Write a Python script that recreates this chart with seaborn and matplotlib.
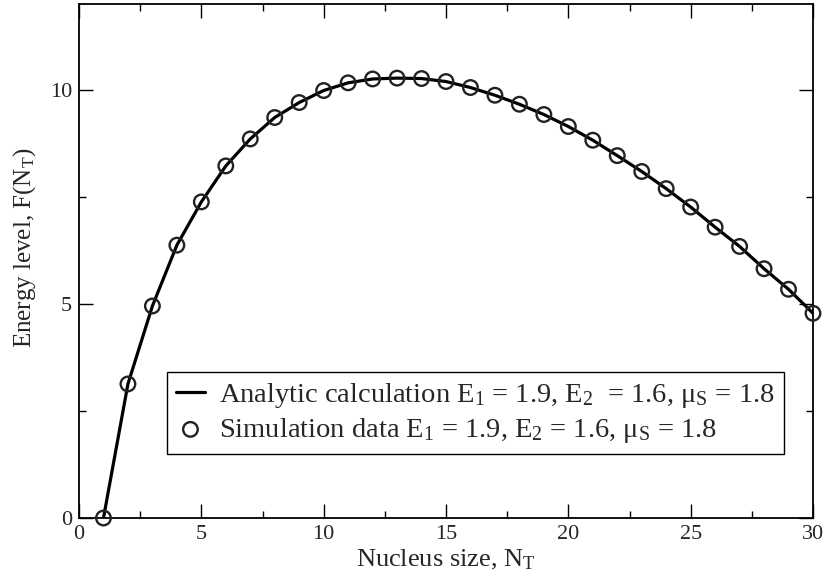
import numpy as np
import pandas as pd
import seaborn as sns
import matplotlib
matplotlib.use("Agg")
import matplotlib.pyplot as plt
from matplotlib.ticker import MultipleLocator

# Data
nucleus_size = list(range(1, 31))
energy = [0.0, 3.13, 4.95, 6.37, 7.38, 8.22, 8.85, 9.35, 9.70, 9.98,
          10.16, 10.25, 10.27, 10.26, 10.19, 10.05, 9.87, 9.66, 9.42, 9.14,
          8.82, 8.46, 8.09, 7.69, 7.26, 6.79, 6.34, 5.82, 5.34, 4.78]

label_line = "Analytic calculation E$_\\mathrm{1}$ = 1.9, E$_\\mathrm{2}$  = 1.6, \u03bc$_\\mathrm{S}$ = 1.8"
label_sim = "Simulation data E$_\\mathrm{1}$ = 1.9, E$_\\mathrm{2}$ = 1.6, \u03bc$_\\mathrm{S}$ = 1.8"

df = pd.DataFrame({"N": nucleus_size, "F": energy})

sns.set_theme(style="ticks")
plt.rcParams['font.family'] = ['Liberation Serif', 'DejaVu Serif']
plt.rcParams['mathtext.fontset'] = 'custom'
plt.rcParams['mathtext.rm'] = 'Liberation Serif'
plt.rcParams['mathtext.it'] = 'Liberation Serif:italic'
plt.rcParams['mathtext.bf'] = 'Liberation Serif:bold'

fig = plt.figure(figsize=(8.29, 5.81), dpi=100)
ax = fig.add_axes([0.0953, 0.1084, 0.8854, 0.8847])

sns.lineplot(data=df, x="N", y="F", ax=ax, color="black", linewidth=2.3,
             label=label_line)
sns.scatterplot(data=df, x="N", y="F", ax=ax, marker="o", s=110,
                facecolor="none", edgecolor="#222222", linewidth=1.7,
                label=label_sim, clip_on=False, zorder=3)

ax.set_xlim(0, 30)
ax.set_ylim(0, 12)
ax.xaxis.set_major_locator(MultipleLocator(5))
ax.xaxis.set_minor_locator(MultipleLocator(2.5))
ax.yaxis.set_major_locator(MultipleLocator(5))
ax.yaxis.set_minor_locator(MultipleLocator(2.5))
ax.tick_params(which='both', direction='in', top=True, right=True,
               labelsize=16, color='black', width=1.0)
ax.tick_params(which='major', length=10, pad=5)
ax.tick_params(which='minor', length=5)
for s in ax.spines.values():
    s.set_linewidth(1.3)
    s.set_color('black')

ax.set_xlabel("Nucleus size, N$_\\mathrm{T}$", fontsize=19, labelpad=3)
ax.set_ylabel("Energy level, F(N$_\\mathrm{T}$)", fontsize=18)
ax.yaxis.set_label_coords(-0.056, 0.525)

leg = ax.legend(loc="upper left", bbox_to_anchor=(0.12, 0.284),
                borderaxespad=0, fontsize=20.5, frameon=True, fancybox=False,
                edgecolor='black', handlelength=1.0, handletextpad=0.5,
                labelspacing=0.2, borderpad=0.32)
leg.get_frame().set_linewidth(1.0)
leg.get_frame().set_alpha(1)

fig.savefig("out.png", dpi=100)
